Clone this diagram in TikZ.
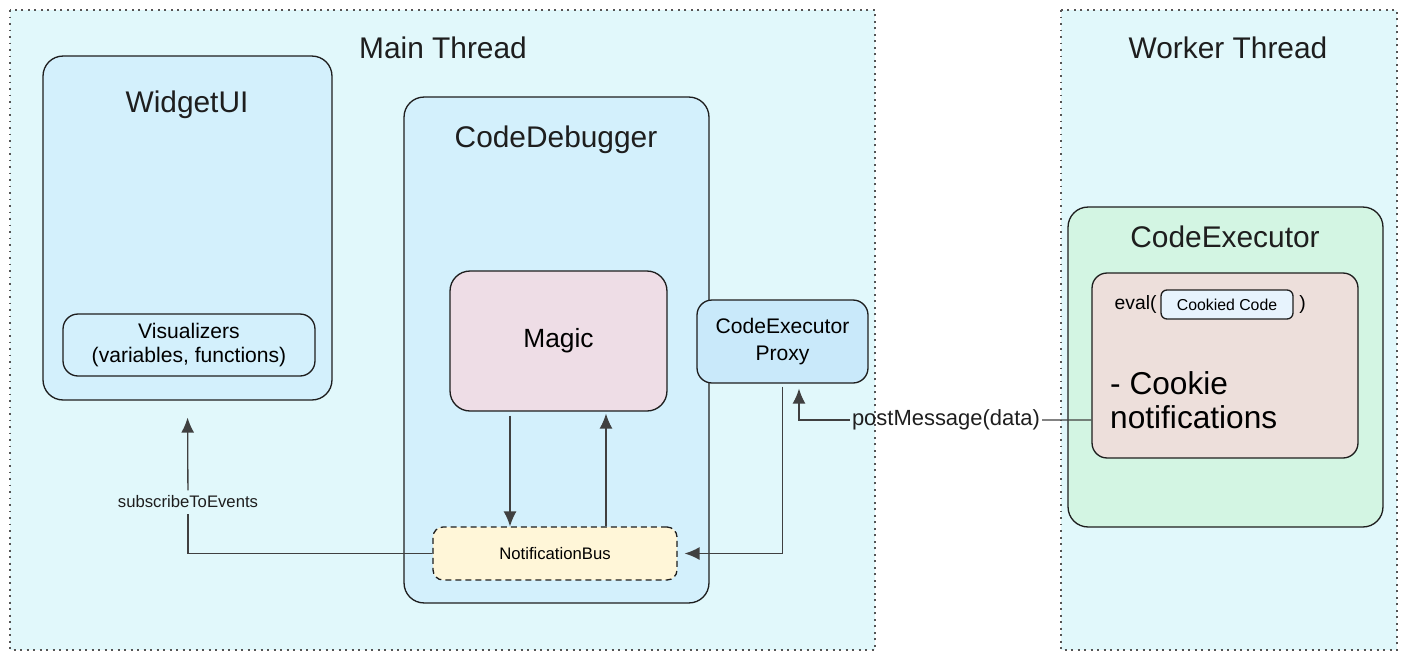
\documentclass[tikz,border=0pt]{standalone}
\usepackage{fontspec}
\setmainfont{Liberation Sans}
\usetikzlibrary{arrows.meta}
\definecolor{threadc}{HTML}{E1F8FB}
\definecolor{framec}{HTML}{555555}
\definecolor{inkc}{HTML}{1E1E1E}
\definecolor{uic}{HTML}{D3F0FC}
\definecolor{magicc}{HTML}{EEDDE6}
\definecolor{proxyc}{HTML}{C9E9FA}
\definecolor{busc}{HTML}{FFF6D8}
\definecolor{execc}{HTML}{D3F5E3}
\definecolor{evalc}{HTML}{EDDFDB}
\definecolor{cookc}{HTML}{E7F3FD}
\tikzset{
  thread/.style={fill=threadc, draw=framec, line width=1pt, dash pattern=on 1.1pt off 2.6pt},
  block/.style={draw=inkc, line width=0.75pt, rounded corners=0.4cm, inner sep=0pt},
  subblock/.style={block, rounded corners=0.3cm},
  title/.style={text=inkc, font=\fontsize{17}{20}\selectfont},
  wire/.style={draw=inkc!85, line width=0.75pt},
  flow/.style={wire, -{Latex[length=3mm,width=2.6mm]}},
  edgelbl/.style={text=inkc, inner sep=1pt},
}

\begin{document}
\begin{tikzpicture}[x=0.02cm, y=-0.02cm]
\useasboundingbox (0,0) rectangle (1406,660);
\draw[thread] (10,10) rectangle (875,650);
\draw[thread] (1061,10) rectangle (1397,650);
\node[title] (maintitle) at (443,48) {Main Thread};
\node[title] (workertitle) at (1228,48) {Worker Thread};

\node[block, fill=uic, minimum width=5.78cm, minimum height=6.88cm] (widget) at (187.5,228) {};
\node[title] (widgettitle) at (187,105) {WidgetUI};
\node[subblock, fill=uic, minimum width=5.04cm, minimum height=1.24cm, align=center,
  font=\fontsize{12}{14}\selectfont] (visual) at (189,345) {Visualizers\\(variables, functions)};

\node[block, fill=uic, minimum width=6.10cm, minimum height=10.12cm] (debugger) at (556.5,350) {};
\node[title] (debuggertitle) at (556,140) {CodeDebugger};
\node[block, fill=magicc, minimum width=4.34cm, minimum height=2.8cm,
  font=\fontsize{15}{18}\selectfont] (magic) at (558.5,341) {Magic};
\node[subblock, fill=proxyc, minimum width=3.42cm, minimum height=1.66cm, align=center,
  font=\fontsize{12}{15}\selectfont] (proxy) at (782.5,341.5) {CodeExecutor\\Proxy};
\node[subblock, fill=busc, dash pattern=on 3.4pt off 2.3pt, rounded corners=0.2cm,
  minimum width=4.88cm, minimum height=1.06cm, font=\fontsize{9.5}{11}\selectfont] (bus) at (555,553.5) {NotificationBus};

\node[block, fill=execc, minimum width=6.3cm, minimum height=6.4cm] (executor) at (1225.5,367) {};
\node[title] (executortitle) at (1225,237) {CodeExecutor};
\node[subblock, fill=evalc, minimum width=5.32cm, minimum height=3.7cm] (inner) at (1225,365.5) {};
\node[block, fill=cookc, rounded corners=0.12cm, minimum width=2.64cm, minimum height=0.58cm,
  font=\fontsize{9}{11}\selectfont] (cookied) at (1227,304.5) {Cookied Code};
\node[anchor=east, inner sep=2pt, font=\fontsize{11}{13}\selectfont] (evalopen) at (cookied.west) {eval(};
\node[anchor=west, inner sep=3pt, font=\fontsize{11}{13}\selectfont] (evalclose) at (cookied.east) {)};
\node[anchor=west, align=left, font=\fontsize{18}{19}\selectfont] (cookie) at (1104,400) {- Cookie\\notifications};

\node[edgelbl, font=\fontsize{12.5}{15}\selectfont] (pm) at (946,420) {postMessage(data)};
\node[edgelbl, font=\fontsize{9.5}{11}\selectfont, inner sep=3pt] (sub) at (188,502) {subscribeToEvents};

\draw[flow] ([xshift=-0.97cm, yshift=-0.08cm]magic.south) -- ([xshift=-0.97cm]magic.south |- bus.north);
\draw[flow] ([xshift=0.95cm]magic.south |- bus.north) -- ([xshift=0.95cm, yshift=-0.04cm]magic.south);
\draw[flow, shorten <=0.06cm, shorten >=0.14cm] (proxy.south) |- (bus.east);
\draw[wire] ([yshift=-1.09cm]inner.west) -- (pm);
\draw[flow, shorten >=0.1cm] (pm) -| ([xshift=0.33cm]proxy.south);
\draw[wire] (bus.west) -| (sub);
\draw[flow, shorten >=0.34cm] (sub) -- (widget.south);
\end{tikzpicture}
\end{document}
